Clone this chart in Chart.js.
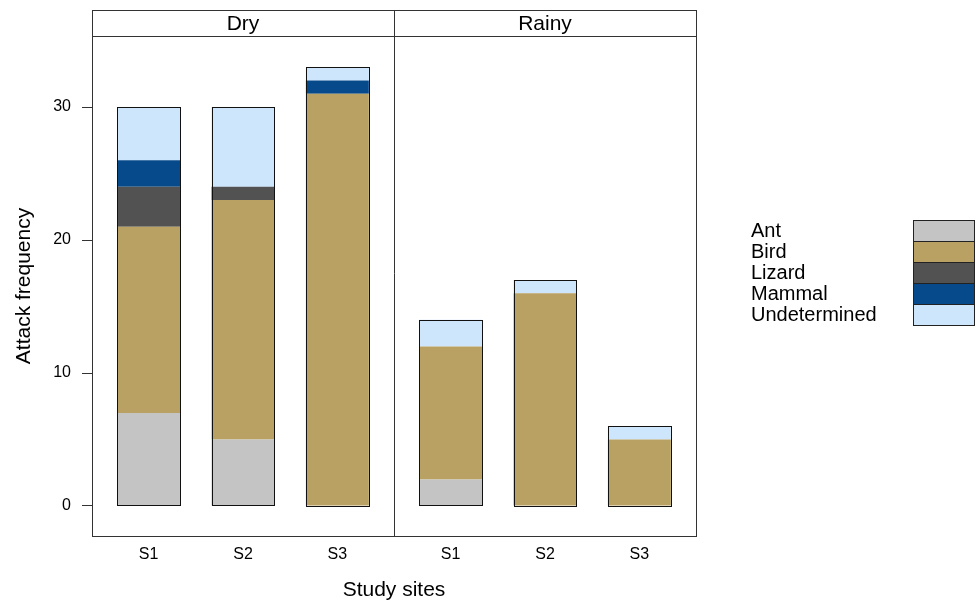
<!DOCTYPE html>
<html lang="en">
<head>
  <meta charset="UTF-8" />
  <title>Attack frequency by study site</title>
  <script src="https://cdn.jsdelivr.net/npm/chart.js"></script>
  <style>
    * { box-sizing: border-box; }
    body { margin: 0; background: #fff; }
    #wrap { width: 976px; height: 601px; }
  </style>
</head>
<body>
  <div id="wrap">
    <canvas id="attackChart" width="976" height="601"></canvas>
  </div>

  <script>
    // panels and sites
    const seasons = ["Dry", "Rainy"];
    const sites = ["S1", "S2", "S3"];

    // attack counts, order: Dry S1..S3, Rainy S1..S3
    const ant          = [7, 5, 0, 2, 0, 0];
    const bird         = [14, 18, 31, 10, 16, 5];
    const lizard       = [3, 1, 0, 0, 0, 0];
    const mammal       = [2, 0, 1, 0, 0, 0];
    const undetermined = [4, 6, 1, 2, 1, 1];

    const yTicks = [0, 10, 20, 30];

    const lineColor = "#333";
    const FONT = "'Liberation Sans', Arial, Helvetica, sans-serif";
    Chart.defaults.font.family = FONT;
    Chart.defaults.color = "#000";

    // each panel spans 3.2 units on the x scale (0.4 .. 3.6 in lattice terms)
    const panelWidth = sites.length + 0.2;
    const xMin = 0.4;
    const xMax = xMin + panelWidth * seasons.length;
    const xPos = [];
    const xLabel = {};
    seasons.forEach((s, p) => {
      sites.forEach((site, i) => {
        const x = +(p * panelWidth + i + 1).toFixed(2);
        xPos.push(x);
        xLabel[x] = site;
      });
    });

    const toPoints = arr => arr.map((v, i) => ({ x: xPos[i], y: v }));

    const series = [
      { label: "Ant", data: ant, color: "#c4c4c4" },
      { label: "Bird", data: bird, color: "#b9a163" },
      { label: "Lizard", data: lizard, color: "#525252" },
      { label: "Mammal", data: mammal, color: "#064a8c" },
      { label: "Undetermined", data: undetermined, color: "#cde6fc" }
    ];

    // strips, panel frame and divider
    const panelFrame = {
      id: "panelFrame",
      afterDraw(chart) {
        const { ctx, chartArea: a, scales: { x } } = chart;
        const stripTop = 10.5;
        const stripBottom = a.top + 0.5;
        ctx.save();
        ctx.strokeStyle = lineColor;
        ctx.lineWidth = 1;
        ctx.strokeRect(a.left + 0.5, stripTop, a.right - a.left, a.bottom - stripTop + 0.5);
        ctx.beginPath();
        ctx.moveTo(a.left, stripBottom);
        ctx.lineTo(a.right, stripBottom);
        for (let p = 1; p < seasons.length; p++) {
          const px = Math.round(x.getPixelForValue(xMin + p * panelWidth)) + 0.5;
          ctx.moveTo(px, stripTop);
          ctx.lineTo(px, a.bottom);
        }
        ctx.stroke();

        ctx.fillStyle = "#000";
        ctx.font = "21px " + FONT;
        ctx.textAlign = "center";
        ctx.textBaseline = "middle";
        seasons.forEach((s, p) => {
          const l = x.getPixelForValue(xMin + p * panelWidth);
          const r = x.getPixelForValue(xMin + (p + 1) * panelWidth);
          ctx.fillText(s, (l + r) / 2, (stripTop + stripBottom) / 2 + 1);
        });
        ctx.restore();
      }
    };

    // black outline round each whole stacked bar
    const barOutline = {
      id: "barOutline",
      afterDatasetsDraw(chart) {
        const { ctx } = chart;
        const metas = chart.data.datasets.map((d, i) => chart.getDatasetMeta(i));
        ctx.save();
        ctx.strokeStyle = "#111";
        ctx.lineWidth = 1;
        xPos.forEach((xv, i) => {
          let top = Infinity, base = -Infinity, cx = 0, w = 0;
          metas.forEach(m => {
            const el = m.data[i];
            top = Math.min(top, el.y, el.base);
            base = Math.max(base, el.y, el.base);
            cx = el.x; w = el.width;
          });
          const l = Math.round(cx - w / 2) + 0.5;
          const r = Math.round(cx + w / 2) + 0.5;
          ctx.strokeRect(l, Math.round(top) + 0.5, r - l, Math.round(base) - Math.round(top));
        });
        ctx.restore();
      }
    };

    // key on the right: text then colour box
    const sideKey = {
      id: "sideKey",
      afterDraw(chart) {
        const { ctx } = chart;
        const textX = 751, boxL = 913, boxR = 975, top = 220, rowH = 21.1;
        ctx.save();
        ctx.font = "20px " + FONT;
        ctx.textAlign = "left";
        ctx.textBaseline = "middle";
        chart.data.datasets.forEach((d, i) => {
          const y0 = top + i * rowH;
          ctx.fillStyle = d.backgroundColor;
          ctx.fillRect(boxL, y0, boxR - boxL, rowH);
          ctx.strokeStyle = "#222";
          ctx.lineWidth = 1;
          ctx.strokeRect(boxL + 0.5, Math.round(y0) + 0.5, boxR - boxL - 1, Math.round(rowH));
          ctx.fillStyle = "#000";
          ctx.fillText(d.label, textX, y0 + rowH / 2 + 1);
        });
        ctx.restore();
      }
    };

    new Chart(document.getElementById("attackChart"), {
      type: "bar",
      data: {
        datasets: series.map(s => ({
          label: s.label,
          data: toPoints(s.data),
          backgroundColor: s.color,
          borderWidth: 0,
          barPercentage: 0.667,
          categoryPercentage: 1
        }))
      },
      options: {
        responsive: false,
        animation: false,
        layout: { padding: { top: 36, right: 280, left: 0, bottom: 0 } },
        plugins: {
          legend: { display: false },
          tooltip: { enabled: false }
        },
        scales: {
          x: {
            type: "linear",
            stacked: true,
            offset: false,
            min: xMin,
            max: xMax,
            afterBuildTicks: scale => { scale.ticks = xPos.map(v => ({ value: v })); },
            afterFit: scale => { scale.height = 65; },
            ticks: {
              font: { size: 16 },
              padding: 9,
              maxRotation: 0,
              autoSkip: false,
              callback: v => xLabel[+(+v).toFixed(2)] || ""
            },
            grid: { display: false, drawTicks: false, offset: false },
            border: { display: false },
            title: {
              display: true,
              text: "Study sites",
              font: { size: 21, lineHeight: 1 },
              padding: { top: 0, bottom: 0 }
            }
          },
          y: {
            stacked: true,
            min: -2.256,
            max: 35.34,
            afterBuildTicks: scale => { scale.ticks = yTicks.map(v => ({ value: v })); },
            afterFit: scale => { scale.width = 92; },
            ticks: { font: { size: 16 }, padding: 11 },
            grid: {
              display: true,
              drawOnChartArea: false,
              drawTicks: true,
              tickLength: 10,
              color: lineColor
            },
            border: { display: true, color: lineColor },
            title: {
              display: true,
              text: "Attack frequency",
              font: { size: 21 },
              padding: { top: 12, bottom: 0 }
            }
          }
        }
      },
      plugins: [panelFrame, barOutline, sideKey]
    });
  </script>
</body>
</html>
